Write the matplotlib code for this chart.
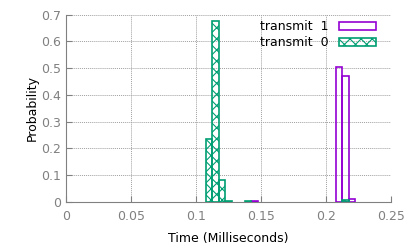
import matplotlib
matplotlib.use("Agg")
import matplotlib.pyplot as plt

# histogram bins (ms), bin width 0.005
t1_centers = [0.145, 0.21, 0.215, 0.22]
t1_prob = [0.005, 0.504, 0.469, 0.011]
t0_centers = [0.11, 0.115, 0.12, 0.125, 0.14, 0.215]
t0_prob = [0.234, 0.678, 0.081, 0.005, 0.005, 0.009]
bin_width = 0.005

purple = "#9400d3"
green = "#009e73"
gray = "#808080"

plt.rcParams["hatch.linewidth"] = 0.8
fig = plt.figure(figsize=(4.15, 2.49), dpi=100)
ax = fig.add_axes([0.159, 0.189, 0.783, 0.752])

ax.bar(t1_centers, t1_prob, width=bin_width, facecolor="none",
       edgecolor=purple, linewidth=1.2, label="transmit  1", zorder=3)
ax.bar(t0_centers, t0_prob, width=bin_width, facecolor="none",
       edgecolor=green, hatch="xxx", linewidth=1.2, label="transmit  0", zorder=3)

ax.set_xlim(0, 0.25)
ax.set_ylim(0, 0.7)
ax.set_xticks([0, 0.05, 0.1, 0.15, 0.2, 0.25])
ax.set_xticklabels(["0", "0.05", "0.1", "0.15", "0.2", "0.25"])
ax.set_yticks([0, 0.1, 0.2, 0.3, 0.4, 0.5, 0.6, 0.7])
ax.set_yticklabels(["0", "0.1", "0.2", "0.3", "0.4", "0.5", "0.6", "0.7"])

ax.grid(True, color="#a0a0a0", linestyle=(0, (1, 1)), linewidth=0.7)
ax.set_axisbelow(True)
for s in ["top", "right"]:
    ax.spines[s].set_visible(False)
for s in ["left", "bottom"]:
    ax.spines[s].set_color(gray)
ax.tick_params(direction="in", colors=gray, labelsize=9, length=4)
ax.tick_params(axis="x", pad=6)

ax.set_xlabel("Time (Milliseconds)", fontsize=9, labelpad=6)
ax.set_ylabel("Probability", fontsize=9, labelpad=2)

ax.legend(loc="upper right", bbox_to_anchor=(0.985, 1.025), frameon=False,
          markerfirst=False, fontsize=9, handlelength=3.0, handleheight=0.6,
          labelspacing=0.25, borderpad=0.3)

fig.savefig("out.png", dpi=100)
